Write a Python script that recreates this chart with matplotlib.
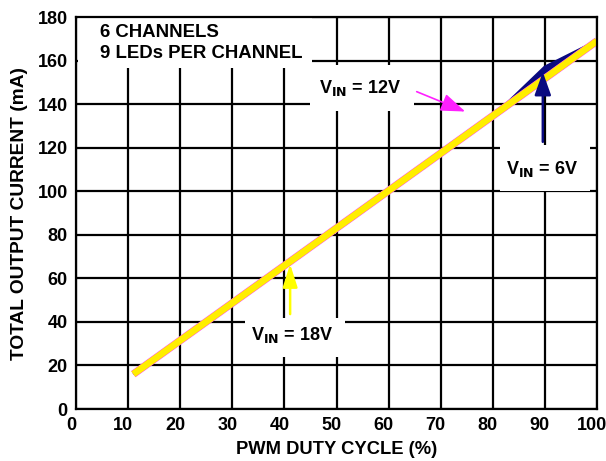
import matplotlib
matplotlib.use("Agg")
import matplotlib.pyplot as plt
from matplotlib.patches import Rectangle
from matplotlib.transforms import ScaledTranslation
import numpy as np

plt.rcParams['font.family'] = ['Liberation Sans', 'DejaVu Sans']
plt.rcParams['font.weight'] = 'bold'

# Data
duty_18v = [11, 100]
cur_18v = [16, 169]
duty_12v = [11, 100]
cur_12v = [16, 169]
duty_6v = [11, 80, 90, 100]
cur_6v = [16, 134, 157, 169]

x_ticks = [0, 10, 20, 30, 40, 50, 60, 70, 80, 90, 100]
y_ticks = [0, 20, 40, 60, 80, 100, 120, 140, 160, 180]

fig = plt.figure(figsize=(6.06, 4.61), dpi=100)
ax = fig.add_axes([76/606, 1-409/461, (597-76)/606, (409-17)/461])
ax.set_xlim(0, 100)
ax.set_ylim(0, 180)
ax.set_xticks(x_ticks)
ax.set_yticks(y_ticks)
ax.tick_params(length=0, labelsize=13, pad=6)
ax.tick_params(axis='x', pad=6)
for lab in ax.get_xticklabels() + ax.get_yticklabels():
    lab.set_fontweight('bold')
shift = ScaledTranslation(-5/100, 0, fig.dpi_scale_trans)
for lab in ax.get_xticklabels():
    lab.set_transform(lab.get_transform() + shift)
ax.grid(True, color='black', linewidth=1.6)
ax.set_axisbelow(True)
for s in ax.spines.values():
    s.set_linewidth(1.6)
    s.set_zorder(6)

# white label boxes that interrupt the grid
for (x0, y0, w, h) in [(0.3, 156.8, 45.0, 23.0), (44.9, 137, 20.0, 21),
                       (81.4, 100, 17.3, 21), (32.4, 23.9, 19.2, 17.9)]:
    ax.add_patch(Rectangle((x0, y0), w, h, facecolor='white', edgecolor='none', zorder=1))

# 6V (navy) - diverges above near top
xx = np.array(duty_6v, dtype=float)
ax.fill_between(xx, np.interp(xx, duty_18v, cur_18v), cur_6v, color='#0a0a80', zorder=2, linewidth=0)
ax.plot(duty_6v, cur_6v, color='#0a0a80', linewidth=2.2, zorder=2, solid_capstyle='butt')
ax.plot(duty_12v, cur_12v, color='#ff40ff', linewidth=5.5, zorder=3, solid_capstyle='butt')
ax.plot(duty_18v, cur_18v, color='#ffee00', linewidth=4.9, zorder=4, solid_capstyle='butt')

ax.text(4.6, 173, '6 CHANNELS', fontsize=13.4, fontweight='bold', va='center', ha='left', zorder=7)
ax.text(4.6, 163.3, '9 LEDs PER CHANNEL', fontsize=13.4, fontweight='bold', va='center', ha='left', zorder=7)

ax.text(46.6, 147.6, r'V$_{\mathbf{IN}}$ = 12V', fontsize=13, fontweight='bold', va='center', ha='left', zorder=7)
ax.text(82.6, 110, r'V$_{\mathbf{IN}}$ = 6V', fontsize=13, fontweight='bold', va='center', ha='left', zorder=7)
ax.text(33.6, 34, r'V$_{\mathbf{IN}}$ = 18V', fontsize=13, fontweight='bold', va='center', ha='left', zorder=7)

ax.annotate('', xy=(75.2, 136.1), xytext=(64.9, 146.2),
            arrowprops=dict(arrowstyle='-|>,head_length=1.5,head_width=0.55', color='#ff20ff', lw=1.2), zorder=7)
ax.annotate('', xy=(89.6, 156.0), xytext=(89.6, 121.4),
            arrowprops=dict(arrowstyle='-|>,head_length=1.4,head_width=0.5', color='#0a0a80', lw=1.8), zorder=7)
ax.annotate('', xy=(41.1, 67.8), xytext=(41.1, 42.3),
            arrowprops=dict(arrowstyle='-|>,head_length=1.4,head_width=0.45', color='#ffff00', lw=1.8), zorder=7)

ax.set_xlabel('PWM DUTY CYCLE (%)', fontsize=13.2, fontweight='bold', labelpad=5)
ax.set_ylabel('TOTAL OUTPUT CURRENT (mA)', fontsize=13.8, fontweight='bold', labelpad=7)

fig.savefig('out.png', dpi=100)
